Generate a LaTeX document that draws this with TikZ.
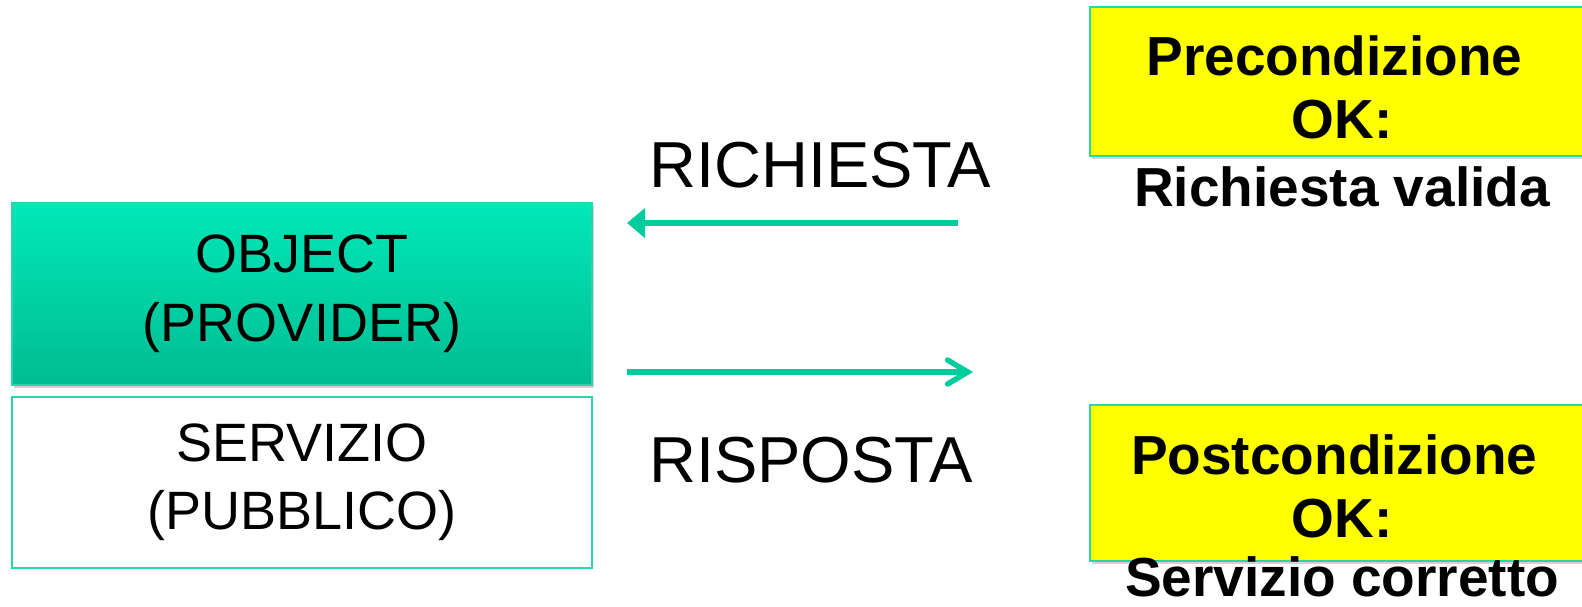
\documentclass[tikz,border=0pt]{standalone}
\usepackage{fontspec}
\setmainfont{Liberation Sans}
\usetikzlibrary{arrows.meta,shadows}

\definecolor{tealline}{RGB}{0,204,158}
\definecolor{tealedge}{RGB}{40,214,172}
\definecolor{objtop}{RGB}{0,232,184}
\definecolor{objbot}{RGB}{0,188,146}
\definecolor{condfill}{RGB}{255,255,0}

\tikzset{
  shade box/.style={drop shadow={shadow xshift=2pt,shadow yshift=-3pt,opacity=0.35}},
  objbox/.style={draw=tealedge,line width=1.3pt,top color=objtop,bottom color=objbot,
    shade box,align=center,inner sep=0pt,font=\fontsize{54}{69}\selectfont},
  srvbox/.style={draw=tealedge,line width=1.3pt,fill=white,align=center,inner sep=0pt,
    font=\fontsize{54}{68}\selectfont},
  condbox/.style={draw=tealedge,line width=1.3pt,fill=condfill,shade box,inner sep=0pt},
  cond/.style={align=center,inner sep=0pt,font=\fontsize{55}{63}\selectfont\bfseries},
  msg/.style={inner sep=0pt,font=\fontsize{65}{70}\selectfont},
  flow/.style={draw=tealline,line width=5.5pt}
}

\begin{document}
\begin{tikzpicture}[x=1pt,y=-1pt]
\useasboundingbox (0,0) rectangle (1582,606);

% the object and its public service
\node[objbox,minimum width=580pt,minimum height=182pt] (obj) at (302,294) {OBJECT\\(PROVIDER)};
\node[srvbox,minimum width=580pt,minimum height=171pt] (srv) at (302,482.5) {SERVIZIO\\(PUBBLICO)};

% request and response
\node[msg,anchor=base west] (req) at (649,187) {RICHIESTA};
\node[msg,anchor=base west] (resp) at (649,482) {RISPOSTA};
\coordinate (reqfrom) at (958,223);
\coordinate (reqto) at (627,223);
\coordinate (respfrom) at (627,372);
\coordinate (respto) at (973,372);
\draw[flow,-{Triangle[length=18pt,width=29pt]}] (reqfrom) -- (reqto);
\draw[flow,-{Straight Barb[length=20pt,width=24pt,line cap=round]}] (respfrom) -- (respto);

% conditions
\node[condbox,minimum width=496pt,minimum height=149pt] (pre) at (1338,81.5) {};
\node[cond,anchor=base] (pretxt) at (1342,138) {Precondizione\kern.28em\\OK:};
\node[cond,anchor=base] (prevalid) at (1342,206) {Richiesta valida};
\node[condbox,minimum width=496pt,minimum height=156pt] (post) at (1338,483) {};
\node[cond,anchor=base] (posttxt) at (1342,537) {Postcondizione\kern.28em\\OK:};
\node[cond,anchor=base] (postok) at (1342,596) {Servizio corretto};
\end{tikzpicture}
\end{document}
